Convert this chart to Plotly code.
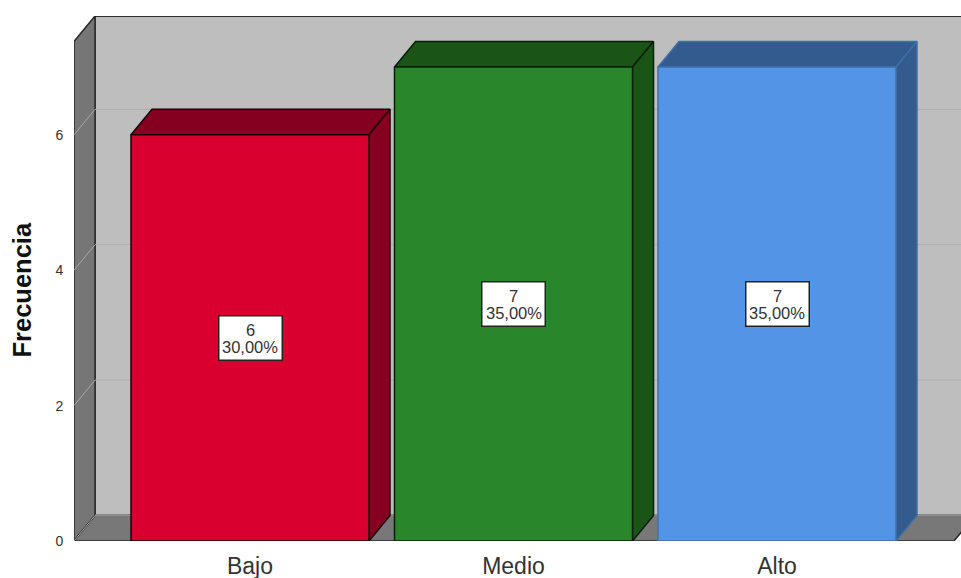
import plotly.graph_objects as go

categories = ["Bajo", "Medio", "Alto"]
counts = [6, 7, 7]
percents = ["30,00%", "35,00%", "35,00%"]
y_ticks = [0, 2, 4, 6]

front_colors = ["#d9002f", "#2a862a", "#5494e6"]
side_colors = ["#850020", "#1b5417", "#335b8e"]
edge_colors = ["#1a0006", "#08200a", "#3f6fa8"]

W, H = 961, 578
ML, MR, MT, MB = 74, 0, 16, 37
PX_X = 263.5
PX_Y = 67.7
X0 = -(250 - ML) / PX_X
X1 = X0 + (W - ML - MR) / PX_X
Y1 = (H - MT - MB) / PX_Y
DX = 21 / PX_X
DY = 25.5 / PX_Y
HALF = 119 / PX_X
WALL = Y1 - DY
FLOOR_END = X0 + 880 / PX_X

fig = go.Figure()


def poly(xs, ys, fill, line, lw=1.5):
    fig.add_trace(go.Scatter(
        x=xs + xs[:1], y=ys + ys[:1], mode="lines", fill="toself", fillcolor=fill,
        line=dict(color=line, width=lw), hoverinfo="skip", showlegend=False, cliponaxis=False,
    ))


def seg(xs, ys, color, lw=1):
    fig.add_trace(go.Scatter(
        x=xs, y=ys, mode="lines", line=dict(color=color, width=lw),
        hoverinfo="skip", showlegend=False, cliponaxis=False,
    ))


# walls and floor
poly([X0 + DX, X1 + DX, X1 + DX, X0 + DX], [DY, DY, WALL + DY, WALL + DY], "#bebebe", "#2a2a2a")
poly([X0, X0 + DX, X0 + DX, X0], [0, DY, WALL + DY, WALL], "#767676", "#2a2a2a")
poly([X0, FLOOR_END, FLOOR_END + DX, X0 + DX], [0, 0, DY, DY], "#787878", "#2a2a2a")
seg([X0 + DX, X1], [DY, DY], "#8f8f8f", 2)
seg([X0 + DX, X1], [WALL + DY, WALL + DY], "#2a2a2a", 1.5)

# gridlines
for t in y_ticks[1:]:
    seg([X0, X0 + DX], [t, t + DY], "#a8a8a8")
    seg([X0 + DX, X1], [t + DY, t + DY], "#adadad")
seg([X0, X0 + DX], [0, DY], "#a8a8a8")

# bars
for i, v in enumerate(counts):
    l, r = i - HALF, i + HALF
    poly([l, r, r + DX, l + DX], [v, v, v + DY, v + DY], side_colors[i], edge_colors[i])
    poly([r, r + DX, r + DX, r], [0, DY, v + DY, v], side_colors[i], edge_colors[i])
    poly([l, r, r, l], [0, 0, v, v], front_colors[i], edge_colors[i])

# value labels
for i, v in enumerate(counts):
    fig.add_annotation(x=i, y=v / 2, text=" ", showarrow=False, width=62, height=43,
                       bgcolor="white", bordercolor="#222222", borderwidth=1.5, borderpad=0)
    fig.add_annotation(x=i, y=v / 2, yshift=8, text=str(v), showarrow=False,
                       font=dict(size=16.5, color="#333333"))
    fig.add_annotation(x=i, y=v / 2, yshift=-9, text=percents[i], showarrow=False,
                       font=dict(size=16.5, color="#333333"))

fig.add_annotation(x=X0, xshift=-52, y=3.7, text="<b>Frecuencia</b>", textangle=-90, showarrow=False,
                   font=dict(size=25.5, color="#111111"))

fig.update_layout(
    width=W, height=H,
    margin=dict(l=ML, r=MR, t=MT, b=MB, autoexpand=False),
    paper_bgcolor="white", plot_bgcolor="white",
    font=dict(family="Liberation Sans, Arial, sans-serif", color="#333333"),
    showlegend=False,
    xaxis=dict(range=[X0, X1], tickvals=list(range(len(categories))), ticktext=categories,
               showgrid=False, zeroline=False, showline=False, ticks="outside", ticklen=4,
               tickcolor="rgba(0,0,0,0)", tickfont=dict(size=23, color="#333333")),
    yaxis=dict(range=[0, Y1], tickvals=y_ticks, showgrid=False, zeroline=False, showline=False,
               ticks="outside", ticklen=7, tickcolor="rgba(0,0,0,0)",
               tickfont=dict(size=14, color="#333333")),
)

fig.write_html("out.html", config={"displayModeBar": False},
               post_script="document.body.style.margin='0';")
